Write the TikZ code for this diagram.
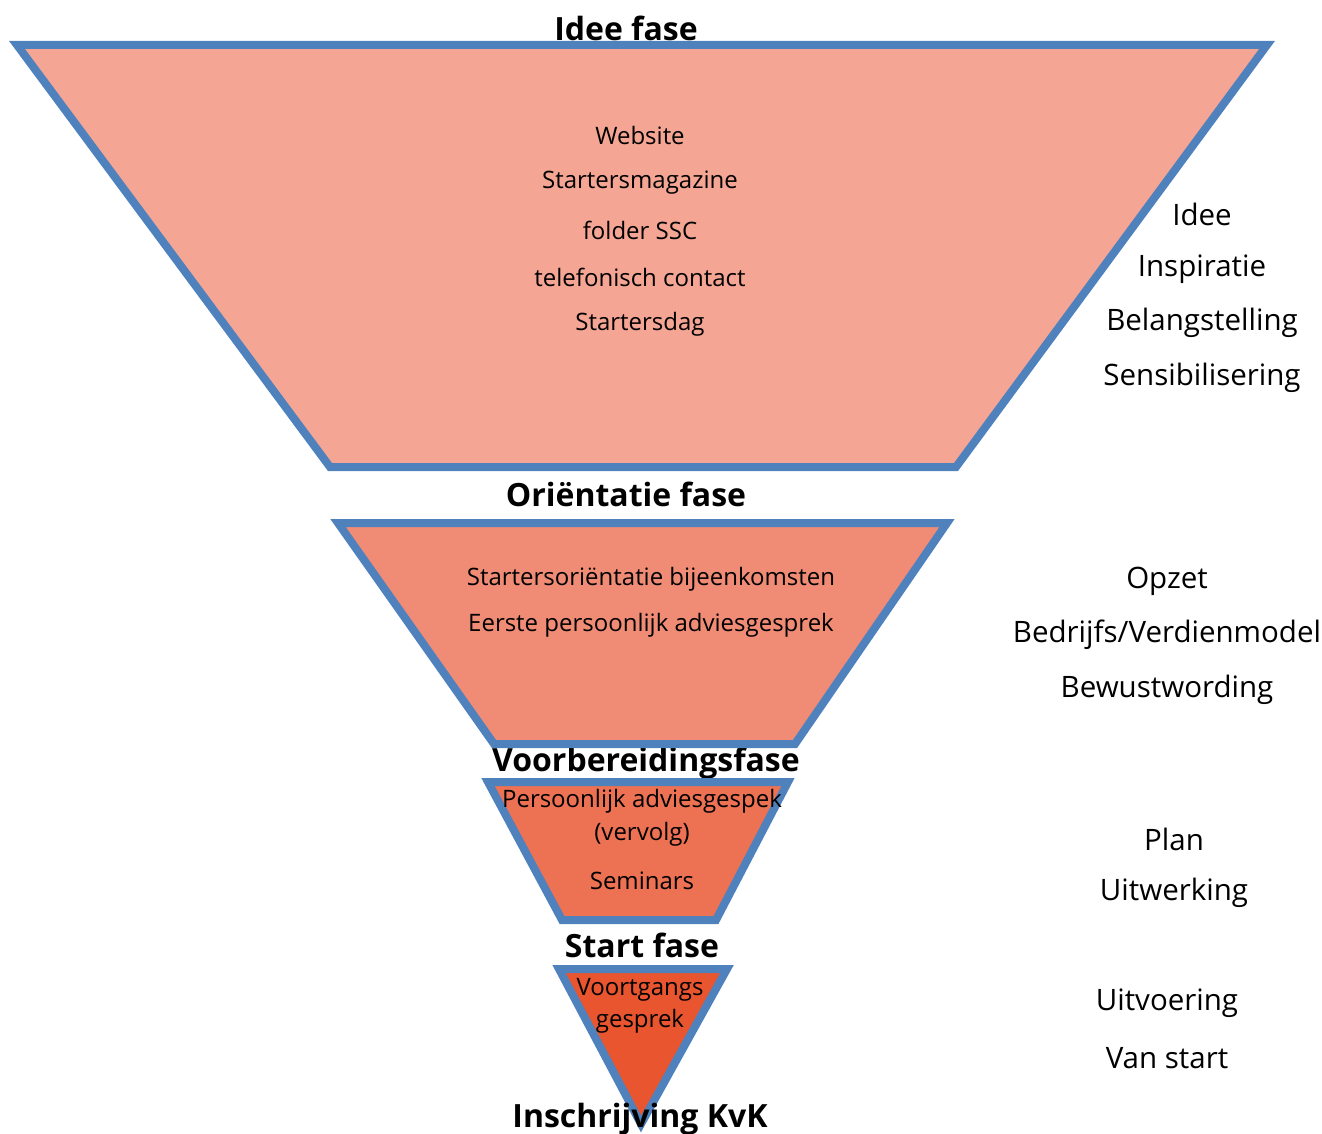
\documentclass[tikz,border=0pt]{standalone}
\usepackage{fontspec}
\setmainfont{Open Sans}
\usetikzlibrary{positioning}
\definecolor{rand}{HTML}{4F81BD}
\definecolor{fase1}{HTML}{F4A593}
\definecolor{fase2}{HTML}{F08C75}
\definecolor{fase3}{HTML}{ED7153}
\definecolor{fase4}{HTML}{E9552F}
\tikzset{
x=1pt, y=-1pt, % pixel coordinates, y going down
trechter/.style={draw=rand, line width=8pt, line join=miter}, % every funnel part
fasetitel/.style={font=\fontsize{32}{35}\selectfont\bfseries}, % phase names
binnen/.style={font=\fontsize{24}{28}\selectfont, yshift=-3pt}, % text inside the funnel
rechts/.style={font=\fontsize{29.5}{32}\selectfont, yshift=-2pt}, % text on the right side
}

\begin{document}
\begin{tikzpicture}
    \useasboundingbox (0,0) rectangle (1322,1134);
    % phase titles
    \node[fasetitel] (tidee) at (626,28) {Idee fase};
    \node[fasetitel] (torient) at (626,494) {Oriëntatie fase};
    \node[fasetitel] (tvoorb) at (646,763) {Voorbereidingsfase};
    \node[fasetitel] (tstart) at (642,945) {Start fase};
    % funnel
    \draw[trechter, fill=fase1] (17,45) -- (1267,45) -- (956,467) -- (330,467) -- cycle;
    \draw[trechter, fill=fase2] (338,523) -- (947,523) -- (795,744) -- (494,744) -- cycle;
    \draw[trechter, fill=fase3] (488,782) -- (788,782) -- (716,920) -- (562,920) -- cycle;
    \draw[trechter, fill=fase4] (559,969) -- (727,969) -- (641,1124) -- cycle;
    \node[fasetitel] (tkvk) at (640,1119) {Inschrijving KvK};
    % idee fase
    \node[binnen] (web) at (640,133) {Website};
    \node[binnen] (mag) at (640,180) {Startersmagazine};
    \node[binnen] (folder) at (640,227) {folder SSC};
    \node[binnen] (tel) at (640,274) {telefonisch contact};
    \node[binnen] (dag) at (640,321) {Startersdag};
    \node[rechts] (idee) at (1202,212) {Idee};
    \node[rechts] (insp) at (1202,267) {Inspiratie};
    \node[rechts] (belang) at (1202,321) {Belangstelling};
    \node[rechts] (sens) at (1202,376) {Sensibilisering};
    % orientatie fase
    \node[binnen] (bijeen) at (651,576) {Startersoriëntatie bijeenkomsten};
    \node[binnen] (eerste) at (651,622) {Eerste persoonlijk adviesgesprek};
    \node[rechts] (opzet) at (1167,579) {Opzet};
    \node[rechts] (model) at (1167,633) {Bedrijfs/Verdienmodel};
    \node[rechts] (bewust) at (1167,688) {Bewustwording};
    % voorbereidingsfase
    \node[binnen] (advies) at (642,798) {Persoonlijk adviesgespek};
    \node[binnen] (vervolg) at (642,831) {(vervolg)};
    \node[binnen] (sem) at (642,878) {Seminars};
    \node[rechts] (plan) at (1174,837) {Plan};
    \node[rechts] (uitw) at (1174,891) {Uitwerking};
    % start fase
    \node[binnen] (voortg) at (640,987) {Voortgangs};
    \node[binnen] (gespr) at (640,1018) {gesprek};
    \node[rechts] (uitv) at (1167,1001) {Uitvoering};
    \node[rechts] (vanstart) at (1167,1056) {Van start};
\end{tikzpicture}
\end{document}
